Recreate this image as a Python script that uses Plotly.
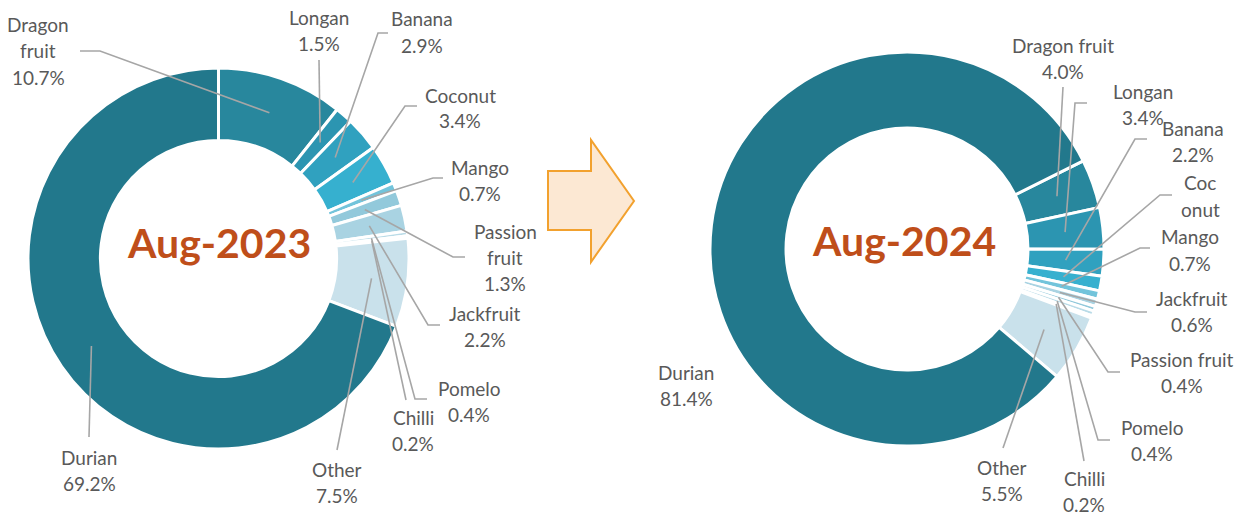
import math
import plotly.graph_objects as go

# ---------------- data ----------------
fruits_2023 = ["Dragon fruit", "Longan", "Banana", "Coconut", "Mango", "Passion fruit",
               "Jackfruit", "Pomelo", "Chilli", "Other", "Durian"]
share_2023 = [10.7, 1.5, 2.9, 3.4, 0.7, 1.3, 2.2, 0.4, 0.2, 7.5, 69.2]
label_names_2023 = ["Dragon<br>fruit", "Longan", "Banana", "Coconut", "Mango", "Passion<br>fruit",
                    "Jackfruit", "Pomelo", "Chilli", "Other", "Durian"]

fruits_2024 = ["Dragon fruit", "Longan", "Banana", "Coconut", "Mango", "Jackfruit",
               "Passion fruit", "Pomelo", "Chilli", "Other", "Durian"]
share_2024 = [4.0, 3.4, 2.2, 1.2, 0.7, 0.6, 0.4, 0.4, 0.2, 5.5, 81.4]
label_names_2024 = ["Dragon fruit", "Longan", "Banana", "Coc<br>onut", "Mango", "Jackfruit",
                    "Passion fruit", "Pomelo", "Chilli", "Other", "Durian"]
show_pct_2024 = [True, True, True, False, True, True, True, True, True, True, True]

titles = ["Aug-2023", "Aug-2024"]

fruit_colors = {
    "Dragon fruit": "#28879d",
    "Longan": "#2c95b1",
    "Banana": "#30a1bf",
    "Coconut": "#36b0cf",
    "Mango": "#72c4db",
    "Passion fruit": "#92c9db",
    "Jackfruit": "#a9d3e2",
    "Pomelo": "#b9dbe7",
    "Chilli": "#c3e0ea",
    "Other": "#c9e1eb",
    "Durian": "#22788c",
}

# ---------------- layout geometry (pixels) ----------------
W, H = 1240, 516
FONT = "Lato"
TXT = "#595959"
LINE = "#a6a6a6"

charts = [
    dict(fruits=fruits_2023, vals=share_2023, names=label_names_2023,
         pct=[True] * len(fruits_2023), cx=218.5, cy=258.5, r=190.5, hole=0.62,
         rotation=0, title=titles[0], tpos=(218.5, 243),
         # label centre (x, y), elbow point, horizontal end x (None = no elbow)
         labels={
             "Dragon fruit": ((38, 51), (100, 51), 80),
             "Longan": ((319, 30), (319, 60), None),
             "Banana": ((422, 32), (378, 33), 388),
             "Coconut": ((460, 108), (405, 106), 417),
             "Mango": ((480, 180), (433, 178), 443),
             "Passion fruit": ((505, 257), (453, 257), 465),
             "Jackfruit": ((485, 326), (428, 325), 440),
             "Pomelo": ((469, 401), (415, 399), 427),
             "Chilli": ((413, 430), (406, 400), None),
             "Other": ((337, 482), (337, 450), None),
             "Durian": ((89, 470), (89, 437), None),
         }),
    dict(fruits=fruits_2024, vals=share_2024, names=label_names_2024,
         pct=show_pct_2024, cx=907, cy=249, r=197, hole=0.614,
         rotation=63.4, title=titles[1], tpos=(904, 241),
         labels={
             "Dragon fruit": ((1063, 58), (1063, 87), None),
             "Longan": ((1143, 105), (1075, 103), 1087),
             "Banana": ((1193, 141), (1135, 139), 1147),
             "Coconut": ((1200, 196), (1160, 195), 1172),
             "Mango": ((1190, 250), (1140, 248), 1150),
             "Jackfruit": ((1192, 311), (1135, 312), 1147),
             "Passion fruit": ((1182, 372), (1108, 372), 1120),
             "Pomelo": ((1152, 440), (1098, 440), 1110),
             "Chilli": ((1084, 491), (1084, 461), None),
             "Other": ((1002, 480), (1003, 448), None),
             "Durian": ((686, 385), None, None),
         }),
]


def px(x):
    return x / W


def py(y):
    return 1 - y / H


fig = go.Figure()
annotations = []
shapes = []

for ch in charts:
    cx, cy, r = ch["cx"], ch["cy"], ch["r"]
    fig.add_trace(go.Pie(
        labels=ch["fruits"], values=ch["vals"], hole=ch["hole"], sort=False,
        direction="clockwise", rotation=ch["rotation"], textinfo="none",
        marker=dict(colors=[fruit_colors[f] for f in ch["fruits"]],
                    line=dict(color="white", width=3)),
        domain=dict(x=[px(cx - r), px(cx + r)], y=[py(cy + r), py(cy - r)]),
        showlegend=False, hoverinfo="label+percent",
    ))
    # centre title
    annotations.append(dict(
        x=px(ch["tpos"][0]), y=py(ch["tpos"][1]), xref="paper", yref="paper",
        text="<b>%s</b>" % ch["title"], showarrow=False, xanchor="center", yanchor="middle",
        font=dict(family=FONT, size=41, color="#BF4E1A")))

    total = sum(ch["vals"])
    rmid = r * (1 + ch["hole"]) / 2
    cum = 0.0
    for fruit, v, nm, showp in zip(ch["fruits"], ch["vals"], ch["names"], ch["pct"]):
        ang = math.radians(ch["rotation"] + (cum + v / 2) / total * 360)
        cum += v
        ax_ = cx + rmid * math.sin(ang)
        ay_ = cy - rmid * math.cos(ang)
        (lx, ly), elbow, endx = ch["labels"][fruit]
        lines = nm.split("<br>") + (["%.1f%%" % v] if showp else [])
        n = len(lines)
        for i, t in enumerate(lines):
            yy = ly + (i - (n - 1) / 2) * 26
            annotations.append(dict(
                x=px(lx), y=py(yy), xref="paper", yref="paper", text=t, showarrow=False,
                xanchor="center", yanchor="middle",
                font=dict(family=FONT, size=19, color=TXT)))
        if elbow is not None:
            path = "M %f,%f L %f,%f" % (px(ax_), py(ay_), px(elbow[0]), py(elbow[1]))
            if endx is not None:
                path += " L %f,%f" % (px(endx), py(elbow[1]))
            shapes.append(dict(type="path", xref="paper", yref="paper", path=path,
                               line=dict(color=LINE, width=1.6)))

# arrow between the two donuts
arrow_pts = [(548, 171), (591, 171), (591, 140), (634, 201), (591, 262), (591, 230), (548, 230)]
arrow_path = "M " + " L ".join("%f,%f" % (px(x), py(y)) for x, y in arrow_pts) + " Z"
shapes.append(dict(type="path", xref="paper", yref="paper", path=arrow_path,
                   fillcolor="#FCE8D3", line=dict(color="#F2A12E", width=2)))

fig.update_layout(
    width=W, height=H, margin=dict(l=0, r=0, t=0, b=0),
    paper_bgcolor="white", plot_bgcolor="white",
    annotations=annotations, shapes=shapes,
    font=dict(family=FONT, color=TXT),
)

fig.write_html("out.html", config={"displayModeBar": False},
               post_script="document.body.style.margin='0';document.body.style.overflow='hidden';")
